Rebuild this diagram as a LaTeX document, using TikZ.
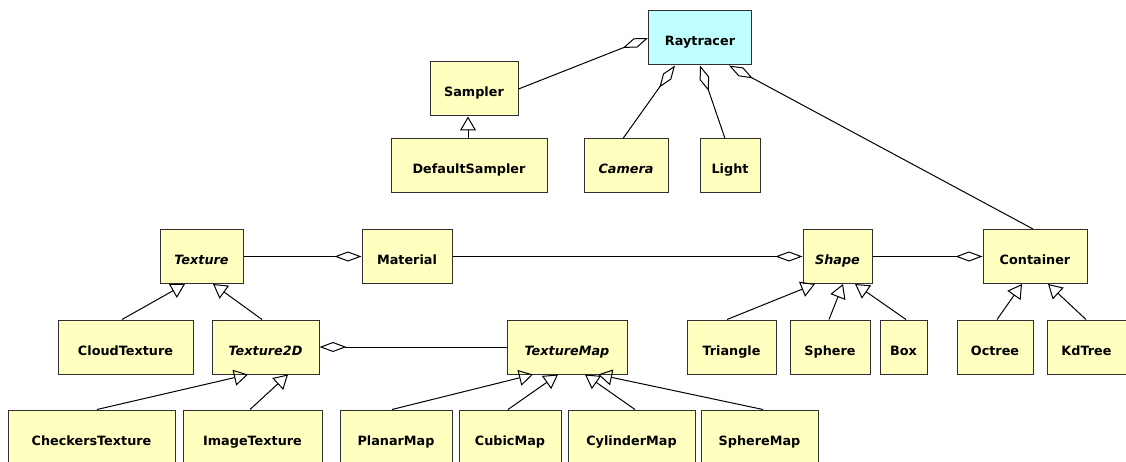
\documentclass[tikz,border=0pt]{standalone}
\usepackage{fontspec}
\setmainfont{DejaVu Sans}
\usetikzlibrary{arrows.meta}
\definecolor{boxyellow}{HTML}{FFFFC0}
\definecolor{boxcyan}{HTML}{C0FFFF}
\definecolor{edge}{HTML}{303030}
\begin{document}
\begin{tikzpicture}[x=1pt,y=-1pt,
  cls/.style={draw=edge, line width=1pt, fill=boxyellow, minimum height=54pt, inner sep=0pt,
    text height=16pt, text depth=0pt,
    font=\fontsize{12.8}{15}\selectfont\bfseries},
  abs/.style={cls, font=\fontsize{12.8}{15}\selectfont\bfseries\itshape},
  inh/.style={draw=black, line width=1pt, -{Triangle[open, length=14pt, width=16pt]}},
  agg/.style={draw=black, line width=1pt, -{Diamond[open, length=27pt, width=10pt]}}]
\fill[white] (0,0) rectangle (1126,462);
\useasboundingbox (0,0) rectangle (1126,462);
% nodes
\node[cls, fill=boxcyan, minimum width=103pt] (ray) at (700,38) {Raytracer};
\node[cls, minimum width=88pt] (sampler) at (474,89) {Sampler};
\node[cls, minimum width=156pt] (defsampler) at (469,166) {DefaultSampler};
\node[abs, minimum width=84pt] (camera) at (626,166) {Camera};
\node[cls, minimum width=60pt] (light) at (730,166) {Light};
\node[abs, minimum width=83pt] (texture) at (201.5,256.5) {Texture};
\node[cls, minimum width=90pt] (material) at (407,256.5) {Material};
\node[abs, minimum width=69pt] (shape) at (837.5,256.5) {Shape};
\node[cls, minimum width=104pt] (container) at (1035,256.5) {Container};
\node[cls, minimum width=135pt] (cloud) at (125.5,347) {CloudTexture};
\node[abs, minimum width=107pt] (tex2d) at (265.5,347) {Texture2D};
\node[abs, minimum width=120pt] (texmap) at (567,347) {TextureMap};
\node[cls, minimum width=89pt] (triangle) at (731.5,347) {Triangle};
\node[cls, minimum width=80pt] (sphere) at (830,347) {Sphere};
\node[cls, minimum width=47pt] (box) at (903.5,347) {Box};
\node[cls, minimum width=76pt] (octree) at (995,347) {Octree};
\node[cls, minimum width=79pt] (kdtree) at (1086.5,347) {KdTree};
\node[cls, minimum width=167pt] (checkers) at (91.5,437) {CheckersTexture};
\node[cls, minimum width=139pt] (imagetex) at (252.5,437) {ImageTexture};
\node[cls, minimum width=112pt] (planar) at (396,437) {PlanarMap};
\node[cls, minimum width=102pt] (cubic) at (510,437) {CubicMap};
\node[cls, minimum width=127pt] (cylinder) at (631.5,437) {CylinderMap};
\node[cls, minimum width=117pt] (spheremap) at (759.5,437) {SphereMap};
% inheritance
\draw[inh] ([xshift=-1pt]defsampler.north) -- ([xshift=-6pt]sampler.south);
\draw[inh] ([xshift=-3.5pt]cloud.north) -- ([xshift=-16.5pt]texture.south);
\draw[inh] ([xshift=-3.5pt]tex2d.north) -- ([xshift=11.5pt]texture.south);
\draw[inh] ([xshift=5.5pt]checkers.north) -- ([xshift=-17.5pt]tex2d.south);
\draw[inh] ([xshift=-2.5pt]imagetex.north) -- ([xshift=22.5pt]tex2d.south);
\draw[inh] ([xshift=-4pt]planar.north) -- ([xshift=-34pt]texmap.south);
\draw[inh] ([xshift=-2pt]cubic.north) -- ([xshift=-9pt]texmap.south);
\draw[inh] ([xshift=3.5pt]cylinder.north) -- ([xshift=18pt]texmap.south);
\draw[inh] ([xshift=3.5pt]spheremap.north) -- ([xshift=31pt]texmap.south);
\draw[inh] ([xshift=-4.5pt]triangle.north) -- ([xshift=-22.5pt]shape.south);
\draw[inh] ([xshift=-1pt]sphere.north) -- ([xshift=5.5pt]shape.south);
\draw[inh] ([xshift=2.5pt]box.north) -- ([xshift=17.5pt]shape.south);
\draw[inh] ([xshift=2pt]octree.north) -- ([xshift=-13pt]container.south);
\draw[inh] ([xshift=-0.5pt]kdtree.north) -- ([xshift=13pt]container.south);
% aggregation
\draw[agg] (sampler.east) -- (ray.west);
\draw[agg] ([xshift=-3pt]camera.north) -- ([xshift=-25pt]ray.south);
\draw[agg] ([xshift=-5pt]light.north) -- (ray.south);
\draw[agg] ([xshift=-2pt]container.north) -- ([xshift=29pt]ray.south);
\draw[agg] (texture.east) -- (material.west);
\draw[agg] (material.east) -- (shape.west);
\draw[agg] (shape.east) -- (container.west);
\draw[agg] (texmap.west) -- (tex2d.east);
\end{tikzpicture}
\end{document}
